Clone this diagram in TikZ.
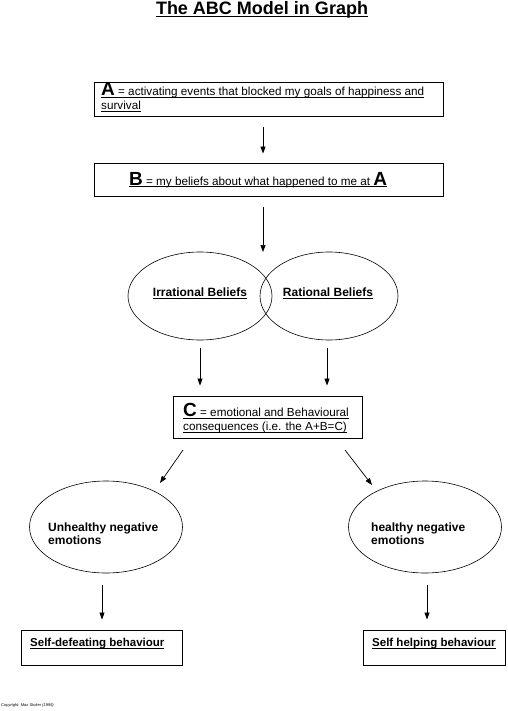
\documentclass[tikz,border=0pt]{standalone}
\usepackage{fontspec}
\setmainfont{Liberation Sans}
\usetikzlibrary{arrows.meta,shapes.geometric}
\newcommand{\bigletter}[1]{{\fontsize{19}{19}\selectfont\bfseries #1}}
\newcommand{\ulx}[2][1.6pt]{\leavevmode\setbox0\hbox{#2}\rlap{\copy0}\rule[-#1]{\wd0}{0.6pt}}
\begin{document}
\begin{tikzpicture}[x=1pt,y=-1pt,
  box/.style={draw,line width=0.9pt,rectangle,inner sep=0pt},
  oval/.style={draw,ellipse,line width=0.6pt,inner sep=0pt},
  arr/.style={-{Triangle[length=7pt,width=5pt]},line width=0.7pt},
  txt/.style={font=\fontsize{11.7}{14}\selectfont,inner sep=0pt,align=left},
  btxt/.style={font=\bfseries\fontsize{12}{13.5}\selectfont,inner sep=0pt,align=left}]
\useasboundingbox (0,0) rectangle (507,711);
% title
\node[font=\bfseries\fontsize{18}{20}\selectfont,inner sep=0pt] (title) at (262,10) {\ulx[2.2pt]{The ABC Model in Graph}};
% box A
\node[box,minimum width=349pt,minimum height=34pt] (A) at (268.5,99) {};
\node[txt,anchor=north west] (At) at (101,82.5) {\ulx{\bigletter{A} = activating events that blocked my goals of happiness and}\\\ulx{survival}};
% box B
\node[box,minimum width=349pt,minimum height=33pt] (B) at (268.5,179.5) {};
\node[txt,anchor=west] (Bt) at (129,180) {\ulx{\bigletter{B} = my beliefs about what happened to me at \bigletter{A}}};
% ellipses
\node[oval,minimum width=144pt,minimum height=88pt] (irr) at (200,296) {};
\node[oval,minimum width=138pt,minimum height=88pt] (rat) at (329,296) {};
\node[btxt] (irrt) at (200,293) {\ulx{Irrational Beliefs}};
\node[btxt] (ratt) at (328,293) {\ulx{Rational Beliefs}};
\coordinate (meet) at (263,252);
% box C
\node[box,minimum width=189pt,minimum height=42pt] (C) at (267.5,417) {};
\node[txt,anchor=north west] (Ct) at (183,403.5) {\ulx{\bigletter{C} = emotional and Behavioural}\\\ulx{consequences (i.e. the A+B=C)}};
% bottom ellipses
\node[oval,minimum width=153pt,minimum height=92pt] (un) at (106,527) {};
\node[oval,minimum width=153pt,minimum height=92pt] (he) at (425,527) {};
\node[btxt,anchor=north west] (unt) at (48,522.5) {Unhealthy negative\\emotions};
\node[btxt,anchor=north west] (het) at (371,522.5) {healthy negative\\emotions};
% bottom boxes
\node[box,minimum width=161pt,minimum height=35pt] (sd) at (101.5,647.5) {};
\node[box,minimum width=142pt,minimum height=35pt] (sh) at (434,647.5) {};
\node[btxt,anchor=west,font=\bfseries\fontsize{11.5}{13}\selectfont] (sdt) at (30,644) {\ulx{Self-defeating behaviour}};
\node[btxt,anchor=west,font=\bfseries\fontsize{11.5}{13}\selectfont] (sht) at (372,644) {\ulx{Self helping behaviour}};
% copyright
\node[font=\itshape\fontsize{4}{5}\selectfont,inner sep=0pt,anchor=west] (copy) at (1,705) {Copyright: Max Stoker (1995)};
% arrows
\draw[arr,shorten <=11pt,shorten >=9pt] (A.south -| 263,0) -- (B.north -| 263,0);
\draw[arr,shorten <=11pt] (B.south -| meet) -- (meet);
\draw[arr,shorten <=8pt,shorten >=10pt] (irr.south) -- (irr.south |- C.north);
\draw[arr,shorten <=8pt,shorten >=10pt] (rat.south -| 327,0) -- (C.north -| 327,0);
\coordinate (cl1) at (183,450); \coordinate (cl2) at (160,483);
\coordinate (cr1) at (345,450); \coordinate (cr2) at (372,485);
\draw[arr] (cl1) -- (cl2);
\draw[arr] (cr1) -- (cr2);
\draw[arr,shorten <=12pt,shorten >=10pt] (un.south -| 102,0) -- (sd.north -| 102,0);
\draw[arr,shorten <=12pt,shorten >=10pt] (he.south -| 427,0) -- (sh.north -| 427,0);
\end{tikzpicture}
\end{document}
